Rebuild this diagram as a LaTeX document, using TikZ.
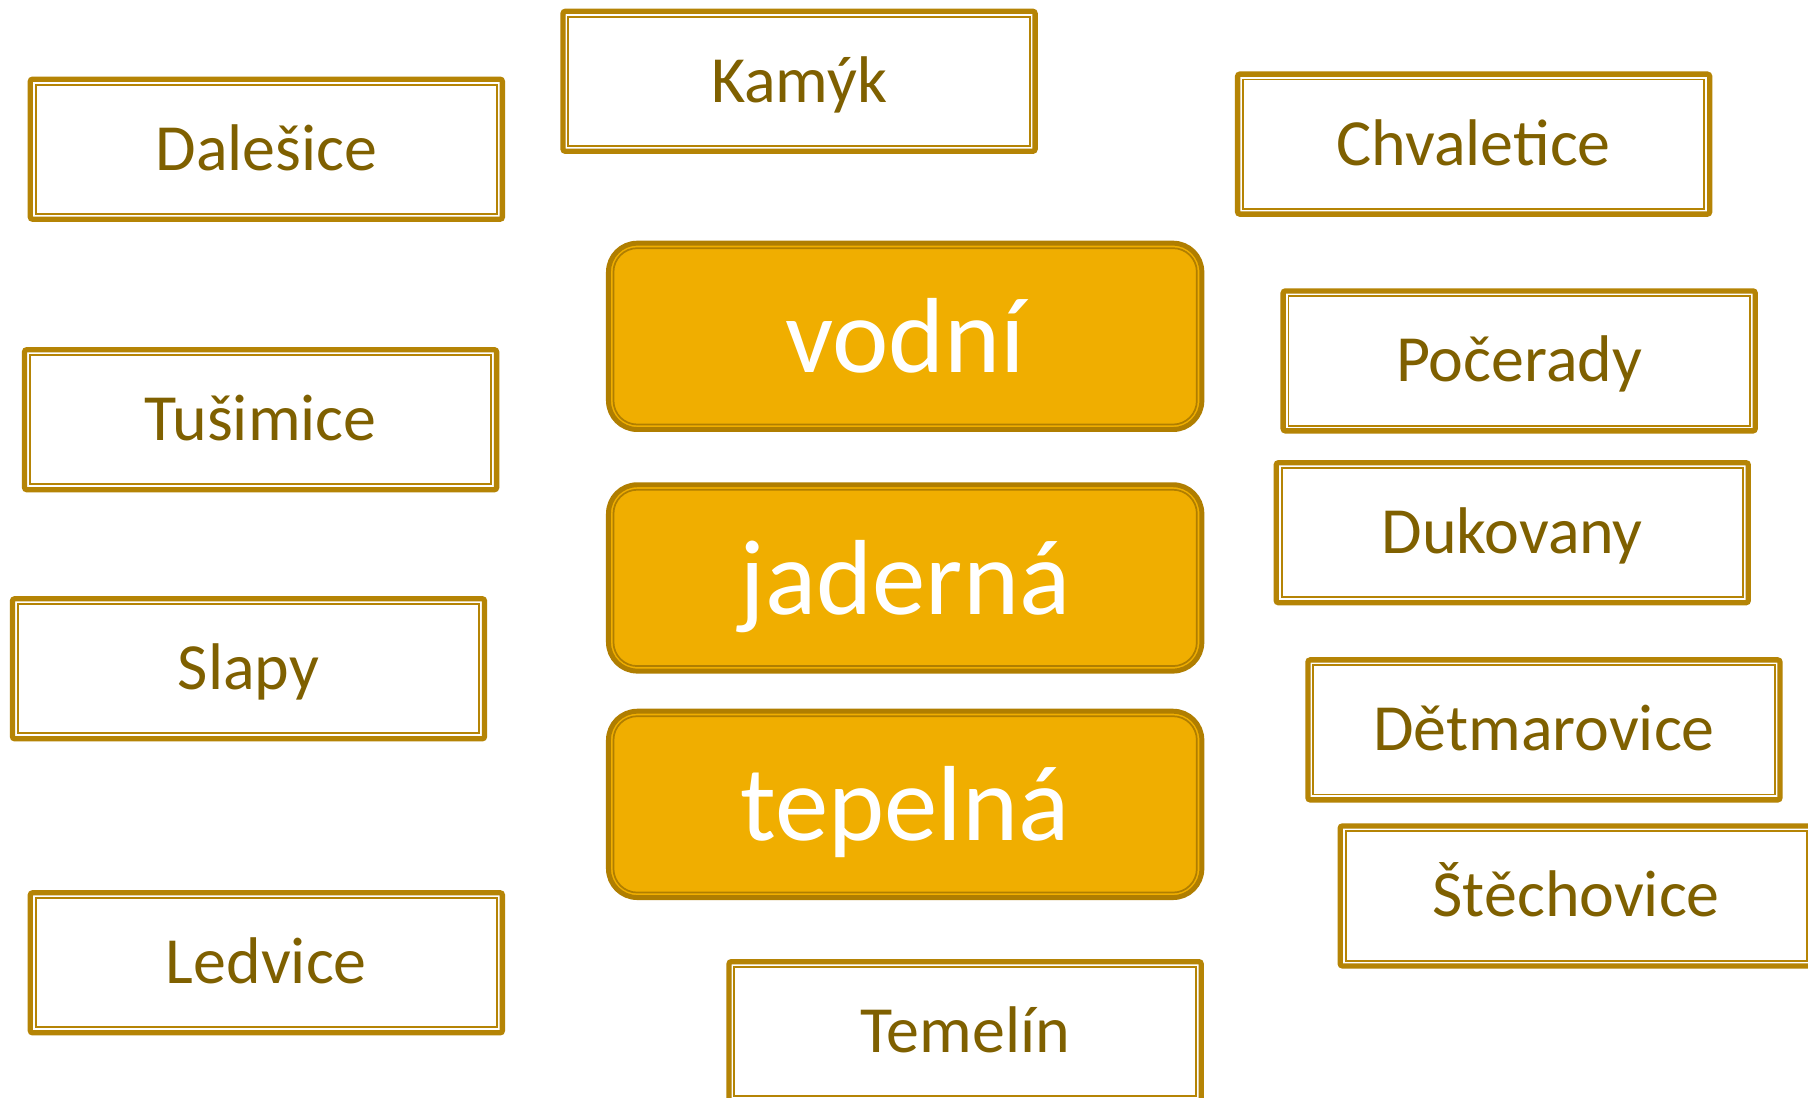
\documentclass[tikz,border=0pt]{standalone}
\usepackage{fontspec}
\setmainfont{Carlito}
\definecolor{frame}{RGB}{181,132,5}
\definecolor{frametwo}{RGB}{176,126,0}
\definecolor{fillc}{RGB}{240,174,0}
\definecolor{txt}{RGB}{127,96,0}
\tikzset{
  plant/.style={draw=frame, line width=2.3pt, rounded corners=1pt,
    minimum width=204.7pt, minimum height=60.7pt, inner sep=0pt,
    text=txt, font=\fontsize{28.6pt}{34pt}\selectfont,
    text height=18.1pt, text depth=0pt},
  plantinner/.style={draw=frame, line width=0.85pt, inner sep=0pt,
    minimum width=200.04pt, minimum height=56.04pt},
  category/.style={draw=frametwo, fill=fillc, line width=2.15pt, rounded corners=12.5pt,
    minimum width=257.3pt, minimum height=80.8pt, inner sep=0pt,
    text=white, font=\fontsize{46.3pt}{55pt}\selectfont,
    text height=32.6pt, text depth=1.3pt},
  categoryinner/.style={draw=frametwo, line width=0.75pt, rounded corners=10.3pt,
    inner sep=0pt, minimum width=252.96pt, minimum height=76.46pt}
}
\newcommand\plantbox[4]{%
  \node[plant] (#1) at (#2,#3) {#4};
  \node[plantinner] (#1-in) at (#1.center) {};
}
\newcommand\catbox[4]{%
  \node[category] (#1) at (#2,#3) {};
  \node[categoryinner] (#1-in) at (#1.center) {};
  \node[category, draw=none, fill=none] (#1-txt) at (#1.center) {#4};
}
\begin{document}
\begin{tikzpicture}[x=0.5pt,y=-0.5pt]
\useasboundingbox (0,0) rectangle (1568,952);
\fill[white] (0,0) rectangle (1568,952);
\plantbox{kamyk}{693}{70.5}{Kamýk}
\plantbox{dalesice}{231}{129.4}{Dalešice}
\plantbox{chvaletice}{1278}{125}{Chvaletice}
\plantbox{pocerady}{1317.5}{313}{Počerady}
\plantbox{tusimice}{226}{364}{Tušimice}
\plantbox{dukovany}{1311.5}{462}{Dukovany}
\plantbox{slapy}{215.5}{580}{Slapy}
\plantbox{detmarovice}{1339}{633}{Dětmarovice}
\plantbox{stechovice}{1367}{777}{Štěchovice}
\plantbox{ledvice}{231}{835}{Ledvice}
\plantbox{temelin}{837}{894.7}{Temelín}
\catbox{vodni}{785}{291.7}{vodní}
\catbox{jaderna}{785}{501.2}{jaderná}
\catbox{tepelna}{785}{697.6}{tepelná}
\end{tikzpicture}
\end{document}
